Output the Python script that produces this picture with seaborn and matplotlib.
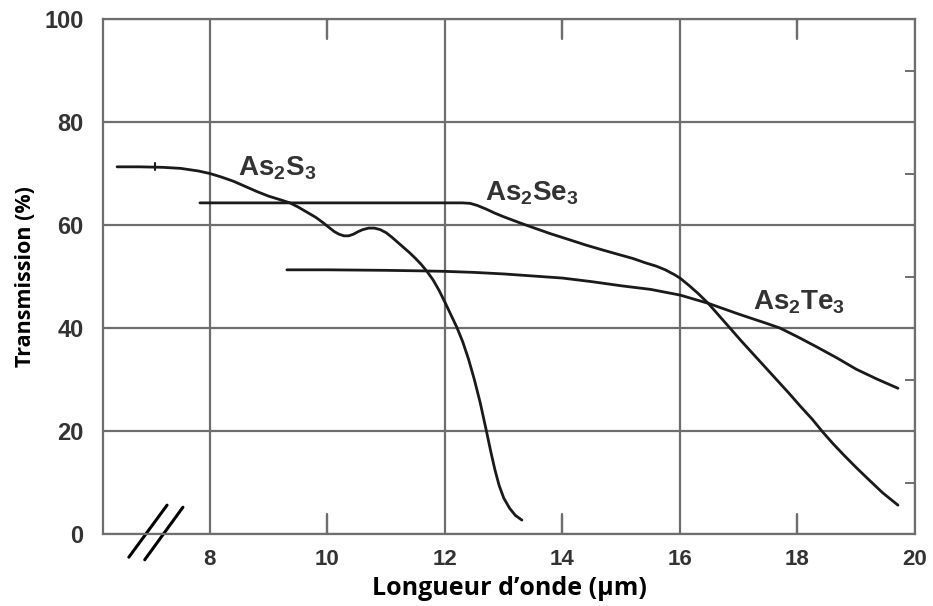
import pandas as pd
import matplotlib.pyplot as plt
import seaborn as sns

grid_col = '#6e6e6e'
txt_col = '#333333'

sns.set_theme(style='white')
plt.rcParams['font.family'] = ['Liberation Sans', 'DejaVu Sans']
plt.rcParams['mathtext.fontset'] = 'custom'
plt.rcParams['mathtext.rm'] = 'Liberation Sans:bold'
plt.rcParams['mathtext.it'] = 'Liberation Sans:bold'
plt.rcParams['mathtext.bf'] = 'Liberation Sans:bold'
# graduations intérieures réglées par rcParams
plt.rcParams.update({
    'xtick.direction': 'in', 'ytick.direction': 'in',
    'xtick.top': True, 'xtick.bottom': True,
    'ytick.left': False, 'ytick.right': True,
    'xtick.major.size': 0, 'ytick.major.size': 0,
    'xtick.minor.size': 14, 'xtick.minor.width': 1.6,
    'ytick.minor.size': 7, 'ytick.minor.width': 1.4,
    'xtick.color': grid_col, 'ytick.color': grid_col,
    'xtick.labelcolor': txt_col, 'ytick.labelcolor': txt_col,
    'xtick.labelsize': 16, 'ytick.labelsize': 17,
    'xtick.major.pad': 11, 'xtick.minor.pad': 11,
    'ytick.major.pad': 14, 'ytick.minor.pad': 14,
})

# Données
as2s3_x = [6.42, 6.8, 7.2, 7.5, 7.8, 8.0, 8.2, 8.4, 8.6, 8.8, 9.0, 9.2, 9.36, 9.5,
           9.65, 9.8, 9.92, 10.03, 10.12, 10.2, 10.28, 10.36, 10.44, 10.52, 10.6,
           10.7, 10.8, 10.9, 11.0, 11.1, 11.2, 11.3, 11.4, 11.5, 11.6, 11.7, 11.8,
           11.9, 12.0, 12.1, 12.2, 12.3, 12.4, 12.5, 12.6, 12.7, 12.78, 12.85,
           12.92, 13.0, 13.1, 13.2, 13.31]
as2s3_y = [71.3, 71.3, 71.2, 71.0, 70.5, 70.0, 69.3, 68.5, 67.5, 66.5, 65.6, 64.9,
           64.3, 63.5, 62.5, 61.5, 60.5, 59.5, 58.7, 58.2, 57.9, 57.9, 58.2, 58.7,
           59.1, 59.4, 59.4, 59.1, 58.5, 57.6, 56.6, 55.6, 54.6, 53.5, 52.3, 50.9,
           49.3, 47.3, 45.0, 42.6, 40.2, 37.4, 34.0, 30.0, 25.5, 20.3, 16.0, 12.5,
           9.5, 7.0, 5.0, 3.6, 2.7]

as2se3_x = [7.83, 9.0, 10.0, 11.0, 12.0, 12.3, 12.43, 12.55, 12.7, 12.85, 13.0,
            13.28, 13.5, 13.8, 14.13, 14.4, 14.7, 14.98, 15.2, 15.4, 15.6, 15.75,
            15.9, 16.0, 16.15, 16.3, 16.48, 16.65, 16.85, 17.05, 17.25, 17.45,
            17.65, 17.85, 18.05, 18.25, 18.43, 18.6, 18.8, 19.0, 19.2, 19.45, 19.71]
as2se3_y = [64.3, 64.3, 64.3, 64.3, 64.3, 64.3, 64.2, 63.8, 63.1, 62.3, 61.6,
            60.4, 59.5, 58.3, 57.1, 56.1, 55.1, 54.2, 53.5, 52.7, 52.0, 51.3,
            50.4, 49.7, 48.3, 46.8, 44.8, 42.6, 40.0, 37.4, 34.9, 32.4,
            29.9, 27.4, 24.8, 22.3, 19.8, 17.6, 15.2, 12.9, 10.7, 8.0, 5.6]

as2te3_x = [9.31, 10.0, 11.0, 11.57, 12.0, 12.5, 13.0, 13.5, 14.0, 14.5, 15.0,
            15.5, 16.0, 16.48, 17.0, 17.5, 17.7, 18.0, 18.3, 18.67, 19.0, 19.35, 19.71]
as2te3_y = [51.3, 51.3, 51.2, 51.1, 51.0, 50.8, 50.5, 50.1, 49.7, 49.0, 48.2,
            47.5, 46.4, 44.8, 42.7, 40.8, 40.0, 38.3, 36.5, 34.2, 32.0, 30.1, 28.3]

x_major = [8, 12, 16, 20]
x_minor = [10, 14, 18]
y_ticks = [0, 20, 40, 60, 80, 100]
y_minor = [10, 30, 50, 70, 90]

fig = plt.figure(figsize=(9.33, 6.06), dpi=100)
ax = fig.add_axes([0.1104, 0.1188, 0.8703, 0.8498])

series = [('As2S3', as2s3_x, as2s3_y), ('As2Se3', as2se3_x, as2se3_y),
          ('As2Te3', as2te3_x, as2te3_y)]
for name, xs, ys in series:
    df = pd.DataFrame({'x': xs, 'y': ys})
    sns.lineplot(data=df, x='x', y='y', ax=ax, color='#1a1a1a', lw=2.0,
                 sort=False, zorder=3)

# petit trait sur la courbe As2S3
ax.plot([7.06, 7.06], [70.6, 72.0], color='#1a1a1a', lw=1.5, zorder=3)

# signe de coupure de l'axe
ax.plot([6.62, 7.27], [-4.5, 5.6], color='black', lw=2.2, clip_on=False)
ax.plot([6.89, 7.54], [-5.0, 5.2], color='black', lw=2.2, clip_on=False)

ax.set_xlim(6.18, 20)
ax.set_ylim(0, 100)

# graduations et grille (majeures à 8, 12, 16)
ax.set_xticks(x_major, labels=[str(v) for v in x_major])
ax.set_xticks(x_minor, labels=[str(v) for v in x_minor], minor=True)
ax.set_yticks(y_ticks)
ax.set_yticks(y_minor, minor=True)
ax.grid(True, which='major', color=grid_col, lw=1.6)
ax.set_axisbelow(True)
for lab in (ax.get_xticklabels() + ax.get_xticklabels(minor=True)
            + ax.get_yticklabels()):
    lab.set_fontweight('bold')

# traits intérieurs en haut et en bas à 10, 14, 18 (tracés à part, au cas où)
xtr = ax.get_xaxis_transform()
for xm in x_minor:
    ax.plot([xm, xm], [0, 0.038], transform=xtr, color=grid_col, lw=1.6, zorder=2)
    ax.plot([xm, xm], [0.962, 1], transform=xtr, color=grid_col, lw=1.6, zorder=2)

for sp in ax.spines.values():
    sp.set_color(grid_col)
    sp.set_linewidth(1.6)

ax.set_xlabel('Longueur d’onde (µm)', fontsize=18, fontweight='bold',
              family=['Open Sans', 'DejaVu Sans'], color='black', labelpad=4)
ax.set_ylabel('Transmission (%)', fontsize=15.5, fontweight='bold',
              family=['Open Sans', 'DejaVu Sans'], color='black', labelpad=6)

# étiquettes des courbes
ax.text(8.48, 71.0, 'As$_2$S$_3$', fontsize=20, fontweight='bold', color=txt_col,
        va='center', ha='left')
ax.text(12.68, 66.2, 'As$_2$Se$_3$', fontsize=20, fontweight='bold', color=txt_col,
        va='center', ha='left')
ax.text(17.24, 45.0, 'As$_2$Te$_3$', fontsize=20, fontweight='bold', color=txt_col,
        va='center', ha='left')

fig.savefig('out.png', dpi=100)
